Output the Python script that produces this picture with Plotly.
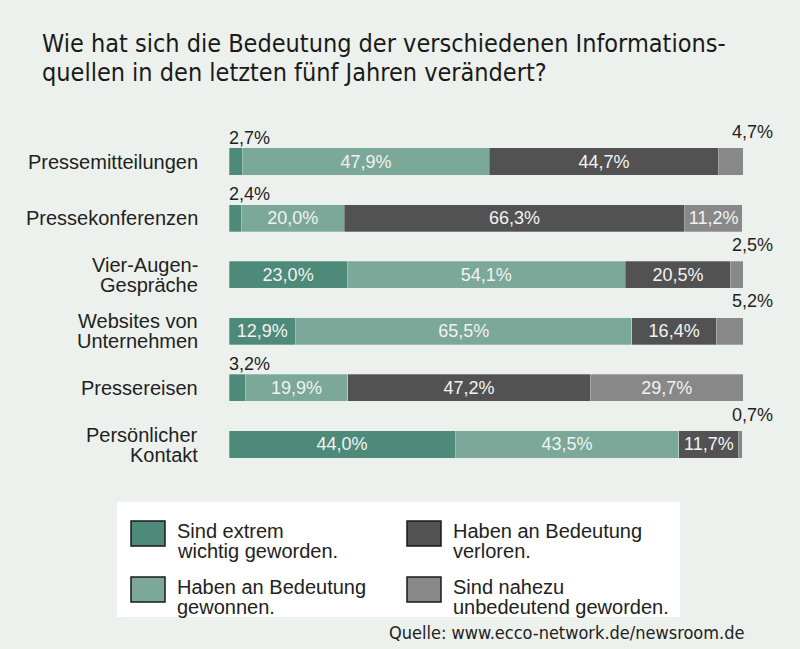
import plotly.graph_objects as go

W, H = 800, 649

categories = ["Pressemitteilungen", "Pressekonferenzen", "Vier-Augen-<br>Gespräche",
              "Websites von<br>Unternehmen", "Pressereisen", "Persönlicher<br>Kontakt"]
extrem = [2.7, 2.4, 23.0, 12.9, 3.2, 44.0]
gewonnen = [47.9, 20.0, 54.1, 65.5, 19.9, 43.5]
verloren = [44.7, 66.3, 20.5, 16.4, 47.2, 11.7]
unbedeutend = [4.7, 11.2, 2.5, 5.2, 29.7, 0.7]

series_names = [["Sind extrem", "wichtig geworden."],
                ["Haben an Bedeutung", "gewonnen."],
                ["Haben an Bedeutung", "verloren."],
                ["Sind nahezu", "unbedeutend geworden."]]
series_values = [extrem, gewonnen, verloren, unbedeutend]
colors = ["#4E8A7A", "#7BA899", "#525252", "#888888"]

title_lines = ["Wie hat sich die Bedeutung der verschiedenen Informations-",
               "quellen in den letzten fünf Jahren verändert?"]
source = "Quelle: www.ecco-network.de/newsroom.de"

BG = "#EDF1ED"
LABEL_FONT = "Liberation Sans, Arial, sans-serif"
COND_FONT = "DejaVu Sans Condensed, sans-serif"
SMALL = 8.0


def fmt(v):
    return f"{v:.1f}".replace(".", ",") + "%"


def px(x):
    return x / W


def py(y):
    return 1 - y / H


fig = go.Figure()
for name, vals, col in zip(series_names, series_values, colors):
    fig.add_trace(go.Bar(
        y=categories, x=vals, orientation="h", name=" ".join(name),
        marker=dict(color=col, line=dict(color="rgba(235,240,235,0.5)", width=0.6)),
        text=[fmt(v) if v >= SMALL else "" for v in vals],
        textposition="inside", insidetextanchor="middle", textangle=0,
        textfont=dict(family=LABEL_FONT, size=18, color="#F2F2F2"),
        width=0.48, showlegend=False, hoverinfo="skip",
    ))

annotations = []
# category labels (one annotation per line for tight line spacing)
for cat in categories:
    lines = cat.split("<br>")
    n = len(lines)
    for j, t in enumerate(lines):
        annotations.append(dict(x=0, y=cat, xref="x", yref="y", text=t, showarrow=False,
                                xanchor="right", yanchor="middle", xshift=-29,
                                yshift=((n - 1) / 2 - j) * 20,
                                font=dict(family=LABEL_FONT, size=20, color="#222")))

# outside labels for small segments
for cat, v in zip(categories, extrem):
    if v < SMALL:
        annotations.append(dict(x=0, y=cat, xref="x", yref="y", text=fmt(v), showarrow=False,
                                xanchor="left", xshift=-2, yshift=24,
                                font=dict(family=LABEL_FONT, size=18, color="#222")))
for cat, v in zip(categories, unbedeutend):
    if v < SMALL:
        annotations.append(dict(x=100, y=cat, xref="x", yref="y", text=fmt(v), showarrow=False,
                                xanchor="right", xshift=32, yshift=30,
                                font=dict(family=LABEL_FONT, size=18, color="#222")))

# title
for i, line in enumerate(title_lines):
    annotations.append(dict(x=px(40), y=py(43 + i * 30), xref="paper", yref="paper", text=line,
                            showarrow=False, xanchor="left", yanchor="middle",
                            font=dict(family=COND_FONT, size=25, color="#1a1a1a")))

# source
annotations.append(dict(x=px(746), y=py(632), xref="paper", yref="paper", text=source,
                        showarrow=False, xanchor="right", yanchor="middle",
                        font=dict(family=COND_FONT, size=18, color="#222")))

shapes = []
# legend box
shapes.append(dict(type="rect", xref="paper", yref="paper", x0=px(117), x1=px(680),
                   y0=py(617), y1=py(502), fillcolor="white", line=dict(width=0), layer="below"))
leg_pos = [(131, 521), (131, 577), (407, 521), (407, 577)]
for (lx, ly), name, col in zip(leg_pos, series_names, colors):
    shapes.append(dict(type="rect", xref="paper", yref="paper", x0=px(lx), x1=px(lx + 34),
                       y0=py(ly + 25), y1=py(ly), fillcolor=col, line=dict(color="#1a1a1a", width=1.5)))
    for j, t in enumerate(name):
        annotations.append(dict(x=px(lx + 44), y=py(ly + 10 + j * 20), xref="paper", yref="paper",
                                text=t, showarrow=False, xanchor="left", yanchor="middle",
                                font=dict(family=LABEL_FONT, size=20, color="#222")))

fig.update_layout(
    width=W, height=H, barmode="stack",
    margin=dict(l=0, r=0, t=0, b=0),
    paper_bgcolor=BG, plot_bgcolor=BG,
    uniformtext=dict(minsize=18, mode="show"),
    xaxis=dict(range=[0, 100], domain=[px(229), px(743)], visible=False, fixedrange=True),
    yaxis=dict(range=[5.5, -0.5], domain=[py(472.8), py(133.2)], showgrid=False, zeroline=False,
               showline=False, ticks="", showticklabels=False),
    annotations=annotations, shapes=shapes,
)

fig.write_html("out.html")
